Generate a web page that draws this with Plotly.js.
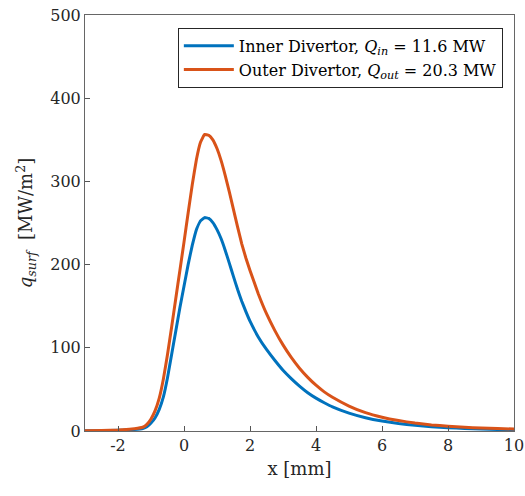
<!DOCTYPE html>
<html>
<head>
<meta charset="utf-8">
<script src="https://cdn.plot.ly/plotly-3.0.1.min.js"></script>
<style>html,body{margin:0;padding:0;background:#fff;}#chart{width:525px;height:496px;}</style>
</head>
<body>
<div id="chart"></div>
<script>
// Positions along the divertor target [mm]
const xPos = [-3, -2.5, -2, -1.75, -1.5, -1.25, -1.125, -1, -0.875, -0.75, -0.625, -0.5, -0.375, -0.25, -0.125,
  0, 0.125, 0.25, 0.375, 0.5, 0.625, 0.75, 0.875, 1, 1.125, 1.25, 1.375, 1.5, 1.625, 1.75, 1.875,
  2, 2.25, 2.5, 2.75, 3, 3.25, 3.5, 3.75, 4, 4.25, 4.5, 5, 5.5, 6, 6.5, 7, 7.5, 8, 8.5, 9, 9.5, 10];
// Inner divertor heat flux [MW/m^2]
const qInner = [0.2, 0.4, 0.8, 1.2, 1.8, 3, 5, 9.5, 16, 26, 41, 64, 92, 120, 148,
  174, 200, 223, 242, 252.5, 256.5, 255.5, 250.5, 242, 231, 217, 201.5, 185.5, 170, 156, 143.5,
  132, 113, 98, 85, 73, 63, 54, 46, 39.5, 34, 29, 21.5, 16, 12, 9, 6.8, 5.2, 4, 3.1, 2.4, 1.9, 1.5];
// Outer divertor heat flux [MW/m^2]
const qOuter = [0.3, 0.6, 1.2, 1.9, 2.8, 4.5, 8, 14.5, 24.5, 39.5, 62.5, 92, 125, 159, 193,
  227, 262, 296, 326, 347, 356.5, 355.5, 350, 339.5, 325, 307, 287, 266, 245, 225, 208,
  193, 165, 141, 121, 103.5, 88.5, 75.5, 64.5, 55, 47, 40.5, 30, 22, 16.5, 12.5, 9.5, 7.3, 5.7, 4.5, 3.6, 2.9, 2.4];

const xTickVals = [-2, 0, 2, 4, 6, 8, 10];
const xTickText = ['-2', '0', '2', '4', '6', '8', '10'];
const yTickVals = [0, 100, 200, 300, 400, 500];
const yTickText = ['0', '100', '200', '300', '400', '500'];

const serif = 'DejaVu Serif, Liberation Serif, serif';

const traces = [
  {x: xPos, y: qInner, type: 'scatter', mode: 'lines',
   name: 'Inner Divertor, <i>Q</i><sub><i>in</i></sub> = 11.6 MW',
   line: {color: '#0072BD', width: 3, shape: 'spline', smoothing: 0.3}},
  {x: xPos, y: qOuter, type: 'scatter', mode: 'lines',
   name: 'Outer Divertor, <i>Q</i><sub><i>out</i></sub> = 20.3 MW',
   line: {color: '#D95319', width: 3, shape: 'spline', smoothing: 0.3}}
];

const axisCommon = {
  showline: true, mirror: true, linecolor: '#666', linewidth: 1,
  ticks: 'inside', ticklen: 5, tickcolor: '#555', tickwidth: 1,
  showgrid: false, zeroline: false,
  tickfont: {family: serif, size: 16, color: '#262626'}
};

const layout = {
  width: 525, height: 496,
  margin: {l: 85, r: 11, t: 15, b: 65},
  paper_bgcolor: '#fff', plot_bgcolor: '#fff',
  showlegend: true,
  xaxis: Object.assign({}, axisCommon, {
    range: [-3, 10], tickmode: 'array', tickvals: xTickVals, ticktext: xTickText,
    title: {text: 'x [mm]', font: {family: serif, size: 18, color: '#262626'}, standoff: 8}
  }),
  yaxis: Object.assign({}, axisCommon, {
    range: [0, 500], tickmode: 'array', tickvals: yTickVals, ticktext: yTickText,
    title: {text: '<i>q</i><sub><i>surf</i></sub>  [MW/m<sup>2</sup>]', font: {family: serif, size: 18, color: '#262626'}, standoff: 12}
  }),
  legend: {
    x: 0.974, y: 0.969, xanchor: 'right', yanchor: 'top',
    bgcolor: '#fff', bordercolor: '#262626', borderwidth: 1,
    font: {family: serif, size: 16, color: '#000'},
    itemwidth: 50, tracegroupgap: 0
  }
};

Plotly.newPlot('chart', traces, layout, {displayModeBar: false, staticPlot: true});
</script>
</body>
</html>
